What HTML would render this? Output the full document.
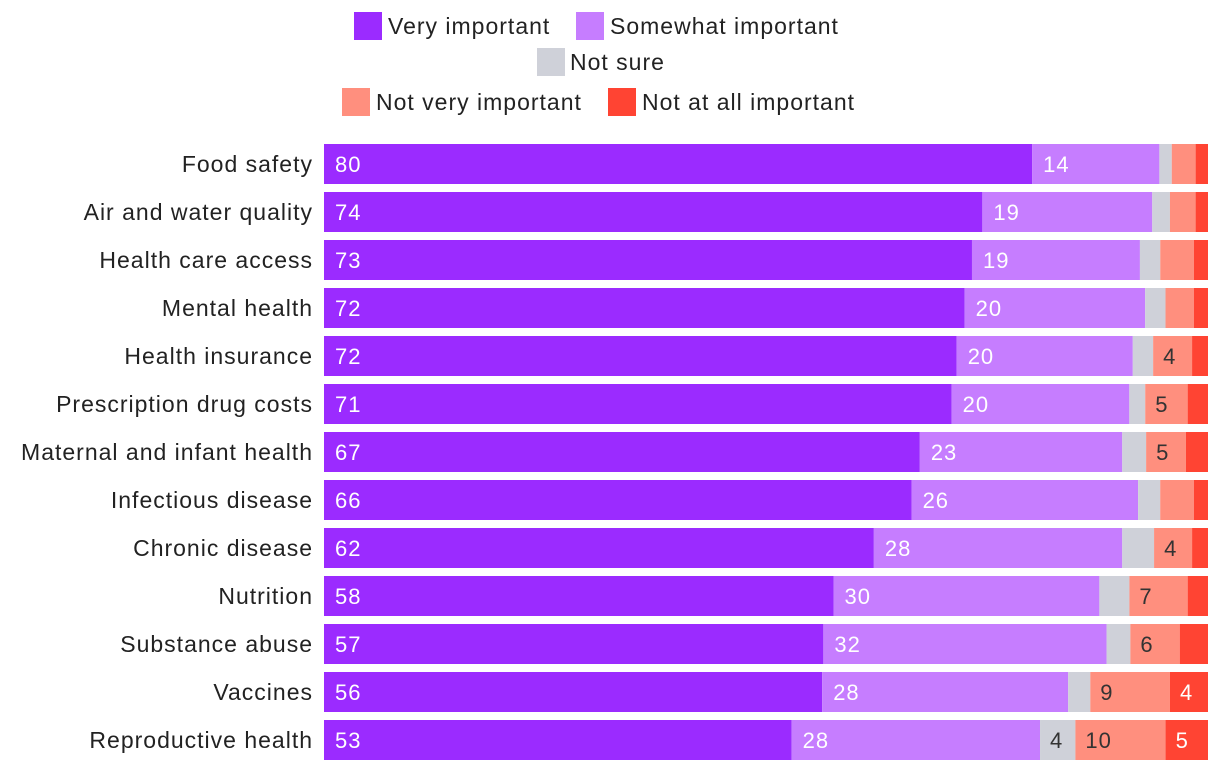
<!DOCTYPE html>
<html><head><meta charset="utf-8"><style>
body{margin:0;background:#fff;font-family:"Liberation Sans",sans-serif}
svg text{font-family:"Liberation Sans",sans-serif;letter-spacing:1px}
</style></head><body>
<svg id="chart" width="1220" height="770" xmlns="http://www.w3.org/2000/svg">
<g font-size="23" fill="#222">
<rect x="354" y="12" width="28" height="28" fill="#9b2bff"/>
<text x="388" y="34">Very important</text>
<rect x="576" y="12" width="28" height="28" fill="#c67dff"/>
<text x="610" y="34">Somewhat important</text>
<rect x="537" y="48" width="28" height="28" fill="#cfd1d9"/>
<text x="570" y="70">Not sure</text>
<rect x="342" y="88" width="28" height="28" fill="#ff8f7e"/>
<text x="376" y="110">Not very important</text>
<rect x="608" y="88" width="28" height="28" fill="#ff4433"/>
<text x="642" y="110">Not at all important</text>
</g>
<g id="bars"></g>
</svg>
<script>
const categories=["Food safety","Air and water quality","Health care access","Mental health","Health insurance","Prescription drug costs","Maternal and infant health","Infectious disease","Chronic disease","Nutrition","Substance abuse","Vaccines","Reproductive health"];
const veryImportant=[80.1,74.4,73.3,72.4,71.5,71.0,67.4,66.4,62.2,57.7,56.6,56.3,52.9];
const somewhatImportant=[14.4,19.2,19.0,20.4,19.9,20.1,22.9,25.6,28.1,30.1,32.1,27.8,28.1];
const notSure=[1.4,2.0,2.3,2.3,2.3,1.8,2.7,2.5,3.6,3.4,2.7,2.5,4.0];
const notVeryImportant=[2.7,2.9,3.8,3.2,4.4,4.8,4.5,3.8,4.3,6.6,5.6,9.0,10.2];
const notAtAllImportant=[1.4,1.4,1.6,1.6,1.8,2.3,2.5,1.6,1.8,2.3,3.2,4.3,4.8];

const series=[
 {key:"very-important",vals:veryImportant,color:"#9b2bff",txt:"#fff",min:0},
 {key:"somewhat-important",vals:somewhatImportant,color:"#c67dff",txt:"#fff",min:0},
 {key:"not-sure",vals:notSure,color:"#cfd1d9",txt:"#333",min:4},
 {key:"not-very-important",vals:notVeryImportant,color:"#ff8f7e",txt:"#333",min:4},
 {key:"not-at-all-important",vals:notAtAllImportant,color:"#ff4433",txt:"#fff",min:4}
];
const X0=324,X1=1208,Y0=144,STEP=48,BH=40;
const NS="http://www.w3.org/2000/svg";
const g=document.getElementById('bars');
function yPos(i){return Y0+i*STEP;}
categories.forEach((c,i)=>{
  const total=series.reduce((s,se)=>s+se.vals[i],0);
  const xs=v=>v/total*(X1-X0);
  const lab=document.createElementNS(NS,'text');
  
  
  lab.setAttribute('x',313);lab.setAttribute('y',yPos(i)+28);
  lab.setAttribute('text-anchor','end');lab.setAttribute('font-size','23');lab.setAttribute('fill','#222');
  lab.textContent=c;g.appendChild(lab);
  let acc=0;
  series.forEach(se=>{
    const v=se.vals[i];const x=X0+xs(acc);const w=xs(v);
    const r=document.createElementNS(NS,'rect');
    
    
    r.setAttribute('x',x);r.setAttribute('y',yPos(i));r.setAttribute('width',w);r.setAttribute('height',BH);
    r.setAttribute('fill',se.color);g.appendChild(r);
    if(v>=se.min){
      const t=document.createElementNS(NS,'text');
      
      
      t.setAttribute('x',x+(se.min?10:11));t.setAttribute('y',yPos(i)+28);
      t.setAttribute('font-size','22');t.setAttribute('fill',se.txt);
      t.textContent=Math.round(v);g.appendChild(t);
    }
    acc+=v;
  });
});
</script>
</body></html>
